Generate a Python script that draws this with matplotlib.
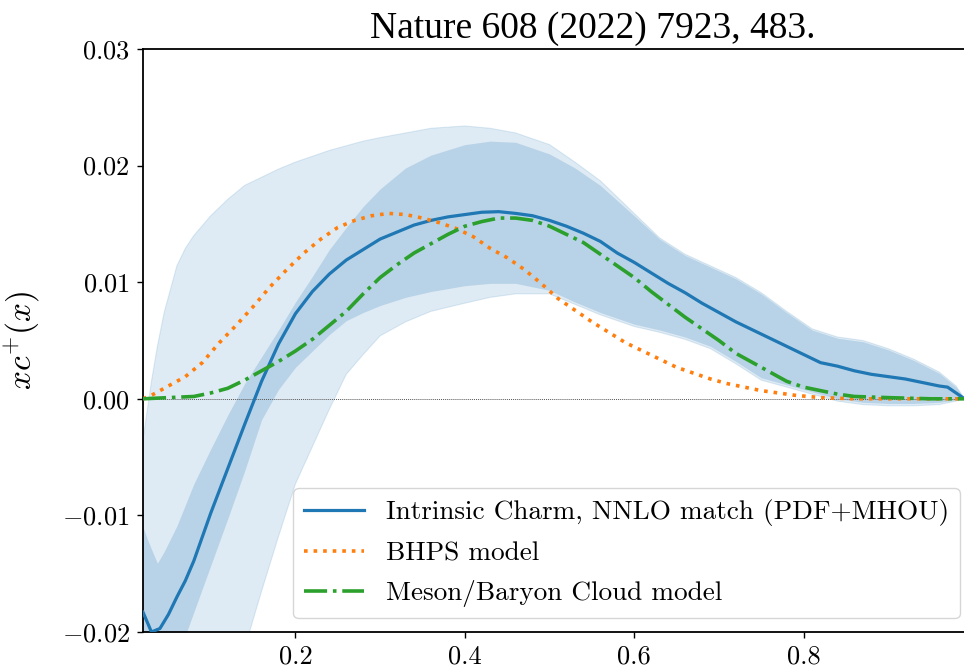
import matplotlib
matplotlib.use("Agg")
import matplotlib.pyplot as plt

plt.rcParams['font.family'] = 'serif'
plt.rcParams['font.serif'] = ['cmr10']
plt.rcParams['mathtext.fontset'] = 'cm'
plt.rcParams['axes.formatter.use_mathtext'] = True
plt.rcParams['axes.unicode_minus'] = True

# ---- data ----
x_ic = [0.02, 0.03, 0.04, 0.05, 0.06, 0.07, 0.08, 0.10, 0.12, 0.14, 0.16, 0.18, 0.20,
        0.22, 0.24, 0.26, 0.28, 0.30, 0.32, 0.34, 0.36, 0.38, 0.40, 0.42, 0.44, 0.46,
        0.48, 0.50, 0.52, 0.54, 0.56, 0.58, 0.60, 0.62, 0.64, 0.66, 0.68, 0.70, 0.72,
        0.74, 0.76, 0.78, 0.80, 0.82, 0.84, 0.86, 0.88, 0.90, 0.92, 0.94, 0.96, 0.97,
        0.98, 0.99, 1.00]
y_ic = [-0.0183, -0.0200, -0.0197, -0.0185, -0.0170, -0.0156, -0.0139, -0.0098, -0.0060,
        -0.0022, 0.0015, 0.0047, 0.0073, 0.0092, 0.0107, 0.0119, 0.0128, 0.0137, 0.0143,
        0.0149, 0.0153, 0.0156, 0.0158, 0.0160, 0.01605, 0.0159, 0.0157, 0.0153, 0.0148,
        0.0142, 0.0135, 0.0125, 0.0117, 0.0108, 0.0099, 0.0091, 0.0082, 0.0074, 0.0066,
        0.0059, 0.0052, 0.0045, 0.0038, 0.0031, 0.0028, 0.0024, 0.0021, 0.0019, 0.0017,
        0.0014, 0.0011, 0.0010, 0.0005, 0.0, 0.0]

x_band = [0.02, 0.025, 0.03, 0.037, 0.045, 0.06, 0.07, 0.08, 0.10, 0.12, 0.14, 0.16, 0.18,
          0.20, 0.22, 0.24, 0.26, 0.28, 0.30, 0.33, 0.36, 0.40, 0.43, 0.46, 0.50, 0.53,
          0.56, 0.60, 0.63, 0.66, 0.69, 0.72, 0.75, 0.78, 0.81, 0.84, 0.87, 0.90, 0.93,
          0.96, 0.98, 0.99, 1.0]
inner_hi = [-0.0110, -0.0120, -0.0129, -0.0141, -0.0131, -0.0109, -0.0091, -0.0073, -0.0043,
            -0.0014, 0.0013, 0.0036, 0.0059, 0.0083, 0.0105, 0.0128, 0.0147, 0.0165, 0.0180,
            0.0198, 0.0209, 0.0218, 0.0221, 0.0220, 0.0210, 0.0198, 0.0183, 0.0157, 0.0137,
            0.0123, 0.0113, 0.0103, 0.0090, 0.0074, 0.0059, 0.0052, 0.0049, 0.0042, 0.0033,
            0.0022, 0.0010, 0.0, 0.0]
inner_lo = [-0.032, -0.031, -0.030, -0.0286, -0.0270, -0.0240, -0.0203, -0.0183, -0.0143,
            -0.0103, -0.0062, -0.0018, 0.0008, 0.0027, 0.0041, 0.0055, 0.0067, 0.0074, 0.0080,
            0.0087, 0.0092, 0.0097, 0.0099, 0.0099, 0.0093, 0.0083, 0.0074, 0.0064, 0.0059,
            0.0053, 0.0045, 0.0032, 0.0018, 0.0012, 0.0006, 0.0000, -0.0003, -0.0004, -0.0004,
            -0.0003, -0.0001, 0.0, 0.0]
outer_hi = [-0.0035, -0.0010, 0.0015, 0.0045, 0.0074, 0.0114, 0.0129, 0.0140, 0.0157, 0.0171,
            0.0183, 0.0190, 0.0197, 0.0203, 0.0208, 0.0213, 0.0217, 0.0221, 0.0224, 0.0228,
            0.0232, 0.0234, 0.0232, 0.0228, 0.0218, 0.0203, 0.0187, 0.0159, 0.0138, 0.0124,
            0.0114, 0.0104, 0.0091, 0.0075, 0.0060, 0.0053, 0.0050, 0.0043, 0.0034, 0.0023,
            0.0011, 0.0, 0.0]
outer_lo = [-0.05, -0.05, -0.05, -0.05, -0.05, -0.045, -0.042, -0.040, -0.034, -0.028,
            -0.0214, -0.0165, -0.0118, -0.0073, -0.0041, -0.0009, 0.0021, 0.0038, 0.0054,
            0.0066, 0.0075, 0.0082, 0.0087, 0.0090, 0.0090, 0.0081, 0.0072, 0.0062, 0.0057,
            0.0051, 0.0043, 0.0030, 0.0016, 0.0010, 0.0004, -0.0002, -0.0005, -0.0006,
            -0.0006, -0.0005, -0.0002, 0.0, 0.0]

x_bhps = [0.02, 0.03, 0.05, 0.07, 0.09, 0.11, 0.13, 0.15, 0.17, 0.19, 0.21, 0.23, 0.25, 0.27,
          0.29, 0.31, 0.33, 0.35, 0.37, 0.39, 0.41, 0.43, 0.45, 0.47, 0.49, 0.51, 0.53, 0.55,
          0.57, 0.59, 0.61, 0.63, 0.65, 0.67, 0.69, 0.71, 0.73, 0.75, 0.77, 0.79, 0.82, 0.86,
          0.90, 1.00]
y_bhps = [0.0, 0.0003, 0.0011, 0.0019, 0.0031, 0.0048, 0.0063, 0.0079, 0.0096, 0.0111, 0.0125,
          0.0137, 0.0147, 0.0153, 0.0157, 0.0159, 0.0158, 0.0155, 0.0151, 0.0146, 0.0139,
          0.0129, 0.0121, 0.0111, 0.0099, 0.0086, 0.0076, 0.0066, 0.0057, 0.0048, 0.0041,
          0.0034, 0.0027, 0.0022, 0.0017, 0.0013, 0.0010, 0.0007, 0.0005, 0.0003, 0.0001,
          0.0, 0.0, 0.0]

x_mbc = [0.02, 0.05, 0.08, 0.10, 0.12, 0.14, 0.16, 0.18, 0.20, 0.22, 0.24, 0.26, 0.28, 0.30,
         0.32, 0.34, 0.36, 0.38, 0.40, 0.42, 0.44, 0.46, 0.48, 0.50, 0.52, 0.54, 0.56, 0.58,
         0.60, 0.62, 0.64, 0.66, 0.68, 0.70, 0.72, 0.74, 0.76, 0.78, 0.80, 0.82, 0.84, 0.86,
         0.90, 0.95, 1.00]
y_mbc = [0.0, 0.0001, 0.0002, 0.0005, 0.0009, 0.0016, 0.0024, 0.0032, 0.0041, 0.0051, 0.0063,
         0.0075, 0.0090, 0.0104, 0.0115, 0.0125, 0.0133, 0.0141, 0.0148, 0.0152, 0.0155,
         0.0155, 0.0153, 0.0148, 0.0141, 0.0134, 0.0124, 0.0114, 0.0104, 0.0092, 0.0081,
         0.0070, 0.0060, 0.0050, 0.0039, 0.0031, 0.0023, 0.0015, 0.0010, 0.0007, 0.0004,
         0.0002, 0.0001, 0.0, 0.0]

labels = ["Intrinsic Charm, NNLO match (PDF+MHOU)", "BHPS model", "Meson/Baryon Cloud model"]
xticks = [0.2, 0.4, 0.6, 0.8]
yticks = [-0.02, -0.01, 0.0, 0.01, 0.02, 0.03]
title = "Nature 608 (2022) 7923, 483."

# ---- figure ----
W, H = 964, 669
fig = plt.figure(figsize=(W / 100, H / 100), dpi=100)
ax = fig.add_axes([143 / W, (H - 632) / H, (973 - 143) / W, (632 - 49) / H])

blue = '#1f77b4'
ax.fill_between(x_band, outer_lo, outer_hi, color=blue, alpha=0.14, lw=0.8)
ax.fill_between(x_band, inner_lo, inner_hi, color=blue, alpha=0.20, lw=0)
ax.axhline(0, color='#555555', lw=0.7, ls=(0, (1, 1)), zorder=2)

ax.plot(x_ic, y_ic, color=blue, lw=2.3, label=labels[0], zorder=4)
ax.plot(x_bhps, y_bhps, color='#ff7f0e', lw=2.6, ls=':', label=labels[1], zorder=4)
ax.plot(x_mbc, y_mbc, color='#2ca02c', lw=2.6, ls='-.', label=labels[2], zorder=4)

ax.set_xlim(0.02, 1.0)
ax.set_ylim(-0.02, 0.03)
ax.set_xticks(xticks)
ax.set_yticks(yticks)
ax.set_xticklabels([f"{v:.1f}" for v in xticks])
ax.tick_params(labelsize=19, length=4.5, width=1.0, pad=5)
for s in ['left', 'bottom', 'top']:
    ax.spines[s].set_linewidth(1.3)
ax.spines['right'].set_visible(False)

ax.set_ylabel(r"$xc^{+}(x)$", fontsize=24)
ax.yaxis.set_label_coords(-0.122, 0.5)

leg = ax.legend(loc='lower right', bbox_to_anchor=(0.984, 0.024), borderaxespad=0,
                fontsize=19.6, handlelength=2.2, labelspacing=0.55, framealpha=0.8)

fig.text(592.5 / W, 1 - 38 / H, title, family='Liberation Serif', fontsize=27,
         ha='center', va='baseline')

fig.savefig("out.png", dpi=100)
